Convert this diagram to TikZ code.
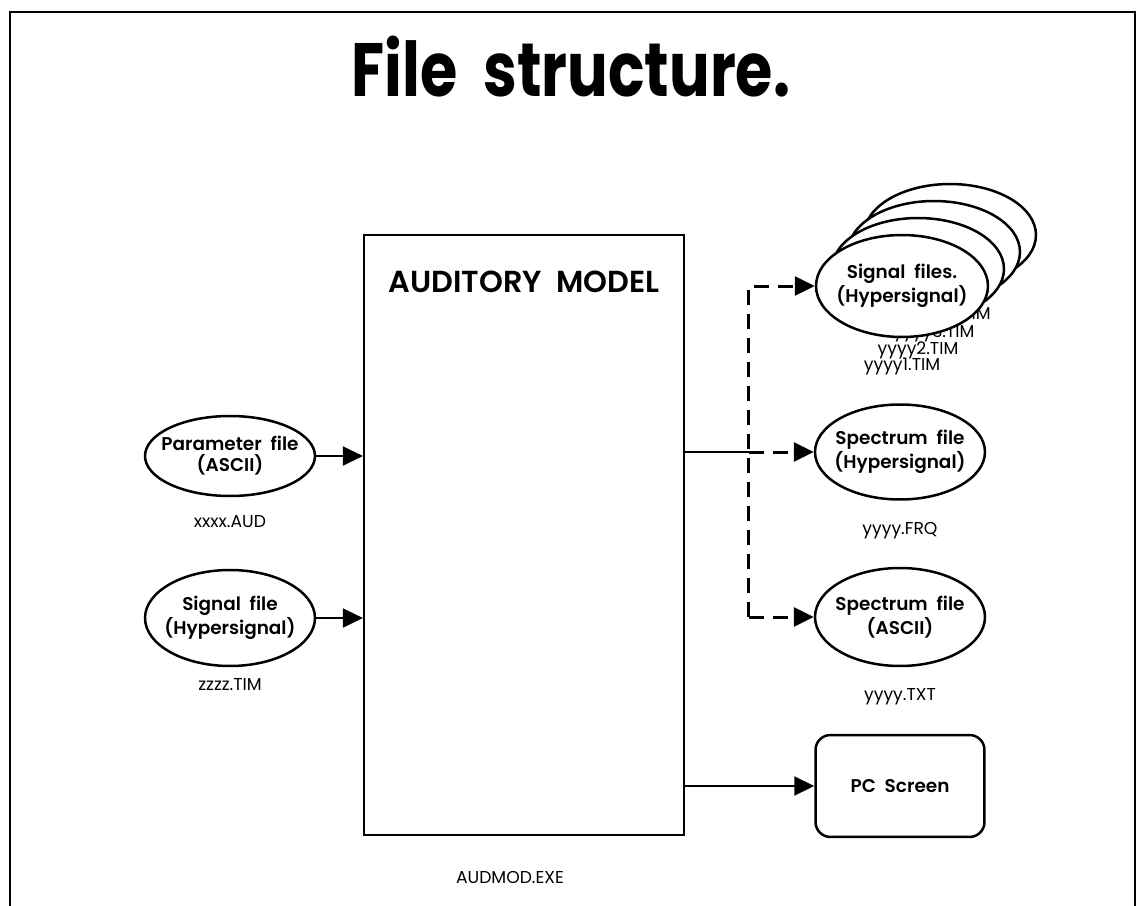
\documentclass[tikz,border=0pt]{standalone}
\usepackage{fontspec}
\setmainfont{Poppins}
\newfontfamily\titlefont{Poppins}[FakeStretch=0.8]
\newfontfamily\boxfont{Poppins SemiBold}
\usetikzlibrary{positioning, shapes.geometric, arrows.meta, calc}

\begin{document}
\begin{tikzpicture}[x=0.02cm, y=-0.02cm, node distance=0.15cm]
    \tikzstyle{block} = [rectangle, draw=black, line width=0.045cm, minimum width=6.4cm, minimum height=12cm]
    \tikzstyle{datafile} = [ellipse, draw=black, line width=0.05cm, fill=white, minimum width=3.4cm, minimum height=1.92cm, inner xsep=-0.6cm, inner ysep=0pt, align=center, font=\fontsize{10.5}{12}\selectfont\boxfont]
    \tikzstyle{filename} = [font=\fontsize{9.8}{11}\selectfont]
    \tikzstyle{link} = [line width=0.04cm, -{Triangle[length=0.4cm, width=0.38cm]}]
    \tikzstyle{dashlink} = [link, line width=0.06cm, dash pattern=on 0.3cm off 0.18cm]

    \useasboundingbox (0,0) rectangle (1137,906);
    \draw [line width=0.03cm] (10,906) -- (10,12) -- (1135,12) -- (1135,906);

    \node (title) at (571,67) {\titlefont\bfseries\fontsize{43}{52}\selectfont File\ \ structure.};

    \node (model) [block] at (524,535) {};
    \node (modelname) [below=0.62cm of model.north, font=\fontsize{17.3}{22}\selectfont\boxfont] {AUDITORY\ \ MODEL};
    \node (exe) [filename, below=0.58cm of model, xshift=-0.28cm] {AUDMOD.EXE};

    \node (param) [datafile, minimum height=1.6cm] at (230,456) {Parameter\ \ file\\(ASCII)};
    \node (aud) [filename, below=0.24cm of param] {xxxx.AUD};

    \node (sig) [datafile] at (230,618) {Signal\ \ file\\(Hypersignal)};
    \node (zzzz) [filename, below=0.1cm of sig] {zzzz.TIM};

    \foreach \i in {4,3,2,1} {
        \node (sigs\i) [datafile, minimum width=3.44cm, minimum height=2.04cm] at ($(902,286)+({16*(\i-1)},{-17*(\i-1)})$) {};
        \node (tim\i) [filename, below=0.28cm of sigs\i] {yyyy\i.TIM};
    }
    \node (sigstext) [align=center, font=\fontsize{10.5}{12}\selectfont\boxfont] at (sigs1) {Signal\ \ files.\\(Hypersignal)};

    \node (spech) [datafile, minimum height=1.9cm] at (900,452) {Spectrum\ \ file\\(Hypersignal)};
    \node (frq) [filename, below=0.3cm of spech] {yyyy.FRQ};

    \node (speca) [datafile, minimum height=1.96cm] at (900,617) {Spectrum\ \ file\\(ASCII)};
    \node (txt) [filename, below=0.3cm of speca] {yyyy.TXT};

    \node (pc) [rectangle, draw=black, line width=0.05cm, rounded corners=0.3cm, minimum width=3.38cm, minimum height=2.04cm, font=\fontsize{10.5}{12}\selectfont\boxfont] at (900,786) {PC\ \ Screen};

    \draw [link] (param) -- (param -| model.west);
    \draw [link] (sig) -- (sig -| model.west);

    \coordinate (bus) at ($(spech.west)+(-65,0)$);
    \draw [line width=0.04cm] (spech -| model.east) -- (bus);
    \draw [dashlink] (bus) -- (spech);
    \draw [dashlink] (bus |- speca) -- (bus |- sigs1.west) -- (sigs1.west);
    \draw [dashlink] (bus |- speca) -- (speca);

    \draw [link] (pc -| model.east) -- (pc);
\end{tikzpicture}
\end{document}
